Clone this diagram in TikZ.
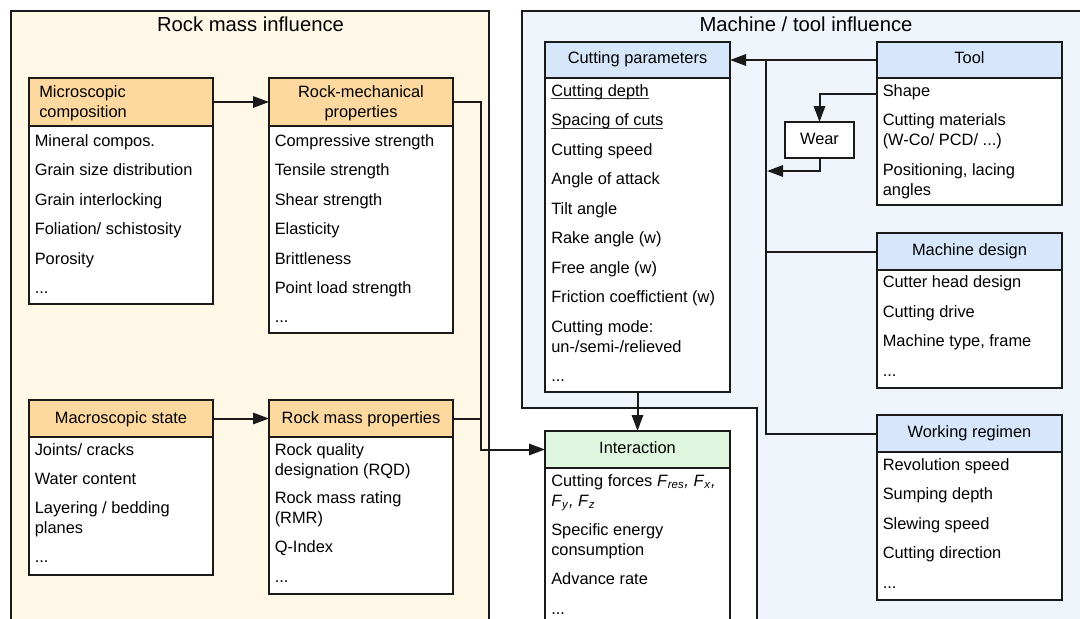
\documentclass[tikz,border=0pt]{standalone}
\usepackage{fontspec}
\setmainfont{Liberation Sans}
\usetikzlibrary{arrows.meta}

\definecolor{creamfill}{HTML}{FFF8E7}
\definecolor{skyfill}{HTML}{F0F5FB}
\definecolor{orangehead}{HTML}{FDD9A0}
\definecolor{bluehead}{HTML}{D6E6FB}
\definecolor{greenhead}{HTML}{E0F7DF}
\definecolor{edge}{HTML}{1A1A1A}

\newcommand\itemfont{\fontsize{12.3pt}{14.8pt}\selectfont}
% underline running just below the baseline
\newcommand\undl[1]{\setbox0\hbox{#1}\rlap{\color{black!75}\rule[-2.2pt]{\wd0}{0.7pt}}#1}

% header cell + white body cell of a property box
% #1 name, #2 x1, #3 y1, #4 x2, #5 header bottom, #6 body bottom, #7 header fill
\newcommand\blk[7]{%
  \node[boxpart, fill=#7, minimum width={(#4-#2)*0.75pt}, minimum height={(#5-#3)*0.75pt}] (#1) at (#2,#3) {};
  \node[boxpart, fill=white, minimum width={(#4-#2)*0.75pt}, minimum height={(#6-#5)*0.75pt}] (#1-body) at (#2,#5) {};
}
% one line of a list: name, x, baseline, text
\newcommand\ent[4]{\node[itm] (#1) at (#2,#3) {#4};}

\begin{document}
\begin{tikzpicture}[x=0.75pt, y=-0.75pt,
  boxpart/.style={draw=edge, line width=1.5pt, inner sep=0pt, outer sep=0pt, anchor=north west, rectangle},
  itm/.style={anchor=base west, inner sep=0pt, font=\itemfont},
  hd/.style={anchor=base, inner sep=0pt, font=\itemfont},
  title/.style={anchor=base, inner sep=0pt, font=\fontsize{15.2pt}{18pt}\selectfont},
  panel/.style={draw=edge, line width=1.1pt},
  conn/.style={draw=edge, line width=1.5pt},
  arr/.style={conn, -{Triangle[length=12pt,width=8.5pt]}}]

\useasboundingbox (0,0) rectangle (1080,618);
\clip (0,0) rectangle (1080,618);
\fill[white] (0,0) rectangle (1080,618);

% ---------- panels ----------
\draw[panel, fill=creamfill] (11,11) rectangle (489,640);
\draw[panel, fill=skyfill] (522,408) -- (522,11) -- (1095,11) -- (1095,640) -- (757,640) -- (757,408) -- cycle;

\node[title] (ttl-rock) at (250.5,31) {Rock mass influence};
\node[title] (ttl-mach) at (806,31) {Machine / tool influence};

% ---------- rock mass side ----------
\blk{mc}{29}{78}{213}{126}{304}{orangehead}
\ent{mc-h1}{39}{97}{Microscopic}
\ent{mc-h2}{39}{117}{composition}
\ent{mc-a}{34.5}{146}{Mineral compos.}
\ent{mc-b}{34.5}{175.5}{Grain size distribution}
\ent{mc-c}{34.5}{205}{Grain interlocking}
\ent{mc-d}{34.5}{234.5}{Foliation/ schistosity}
\ent{mc-e}{34.5}{264}{Porosity}
\ent{mc-f}{34.5}{293.5}{...}

\blk{rmp}{269}{78}{453}{126}{333}{orangehead}
\node[hd] (rmp-h1) at (361,97) {Rock-mechanical};
\node[hd] (rmp-h2) at (361,117) {properties};
\ent{rmp-a}{274.5}{146}{Compressive strength}
\ent{rmp-b}{274.5}{175.5}{Tensile strength}
\ent{rmp-c}{274.5}{205}{Shear strength}
\ent{rmp-d}{274.5}{234.5}{Elasticity}
\ent{rmp-e}{274.5}{264}{Brittleness}
\ent{rmp-f}{274.5}{293.5}{Point load strength}
\ent{rmp-g}{274.5}{322.5}{...}

\blk{ms}{29}{400}{213}{437}{575}{orangehead}
\node[hd] (ms-h) at (121,423) {Macroscopic state};
\ent{ms-a}{34.5}{455}{Joints/ cracks}
\ent{ms-b}{34.5}{484}{Water content}
\ent{ms-c}{34.5}{513.5}{Layering / bedding}
\ent{ms-d}{34.5}{533.5}{planes}
\ent{ms-e}{34.5}{562.5}{...}

\blk{rms}{269}{400}{453}{437}{594}{orangehead}
\node[hd] (rms-h) at (361,423) {Rock mass properties};
\ent{rms-a}{274.5}{455}{Rock quality}
\ent{rms-b}{274.5}{475}{designation (RQD)}
\ent{rms-c}{274.5}{503.5}{Rock mass rating}
\ent{rms-d}{274.5}{523.5}{(RMR)}
\ent{rms-e}{274.5}{552.5}{Q-Index}
\ent{rms-f}{274.5}{582}{...}

% ---------- machine / tool side ----------
\blk{cp}{545}{42}{730}{78}{392}{bluehead}
\node[hd] (cp-h) at (637.5,63) {Cutting parameters};
\ent{cp-a}{551}{96}{\undl{Cutting depth}}
\ent{cp-b}{551}{125.5}{\undl{Spacing of cuts}}
\ent{cp-c}{551}{155}{Cutting speed}
\ent{cp-d}{551}{184.5}{Angle of attack}
\ent{cp-e}{551}{214}{Tilt angle}
\ent{cp-f}{551}{243.5}{Rake angle (w)}
\ent{cp-g}{551}{273}{Free angle (w)}
\ent{cp-h}{551}{302.5}{Friction coeffictient (w)}
\ent{cp-i}{551}{332}{Cutting mode:}
\ent{cp-j}{551}{352}{un-/semi-/relieved}
\ent{cp-k}{551}{381.5}{...}

\blk{ia}{545}{431}{730}{468}{640}{greenhead}
\node[hd] (ia-h) at (637.5,453) {Interaction};
\ent{ia-a}{551}{486}{Cutting forces \textit{F}\textsubscript{\textit{res}}\textit{,} \textit{F}\textsubscript{\textit{x}}\textit{,}}
\ent{ia-b}{551}{506}{\textit{F}\textsubscript{\textit{y}}\textit{,} \textit{F}\textsubscript{\textit{z}}}
\ent{ia-c}{551}{535}{Specific energy}
\ent{ia-d}{551}{555}{consumption}
\ent{ia-e}{551}{584.5}{Advance rate}
\ent{ia-f}{551}{614}{...}

\blk{tool}{877}{42}{1062}{78}{205}{bluehead}
\node[hd] (tool-h) at (969.5,63) {Tool};
\ent{tool-a}{882.5}{96}{Shape}
\ent{tool-b}{882.5}{125.5}{Cutting materials}
\ent{tool-c}{882.5}{145.5}{(W-Co/ PCD/ ...)}
\ent{tool-d}{882.5}{175}{Positioning, lacing}
\ent{tool-e}{882.5}{195}{angles}

\blk{md}{877}{233}{1062}{270}{388}{bluehead}
\node[hd] (md-h) at (969.5,255) {Machine design};
\ent{md-a}{882.5}{287.5}{Cutter head design}
\ent{md-b}{882.5}{317}{Cutting drive}
\ent{md-c}{882.5}{346.5}{Machine type, frame}
\ent{md-d}{882.5}{376}{...}

\blk{wr}{877}{415}{1062}{452}{600}{bluehead}
\node[hd] (wr-h) at (969.5,437) {Working regimen};
\ent{wr-a}{882.5}{470}{Revolution speed}
\ent{wr-b}{882.5}{499.5}{Sumping depth}
\ent{wr-c}{882.5}{529}{Slewing speed}
\ent{wr-d}{882.5}{558.5}{Cutting direction}
\ent{wr-e}{882.5}{588}{...}

\node[boxpart, fill=white, minimum width={69*0.75pt}, minimum height={36*0.75pt}] (wear) at (785,122) {};
\node[hd] (wear-t) at (819.5,144) {Wear};

% ---------- connectors ----------
\draw[arr] (mc.east) -- (rmp.west);
\draw[arr] (ms.east) -- (rms.west);
\coordinate (rjoin) at (481,418.5);
\draw[arr] (rmp.east) -- ++(28,0) |- (ia.west);
\draw[conn] (rms.east) -- (rjoin);

\draw[arr] (cp-body.south) -- (ia.north);

\draw[arr] (tool.west) -- (cp.east);
\coordinate (busT) at (766,60);
\draw[conn] (busT) |- (wr.west);
\draw[conn] (md.west) -- (md.west -| busT);

\coordinate (shapeL) at (877,94);
\draw[arr] (shapeL) -| (wear.north);
\coordinate (wearIn) at (767,171);
\draw[arr] (wear.south) |- (wearIn);

\end{tikzpicture}
\end{document}
